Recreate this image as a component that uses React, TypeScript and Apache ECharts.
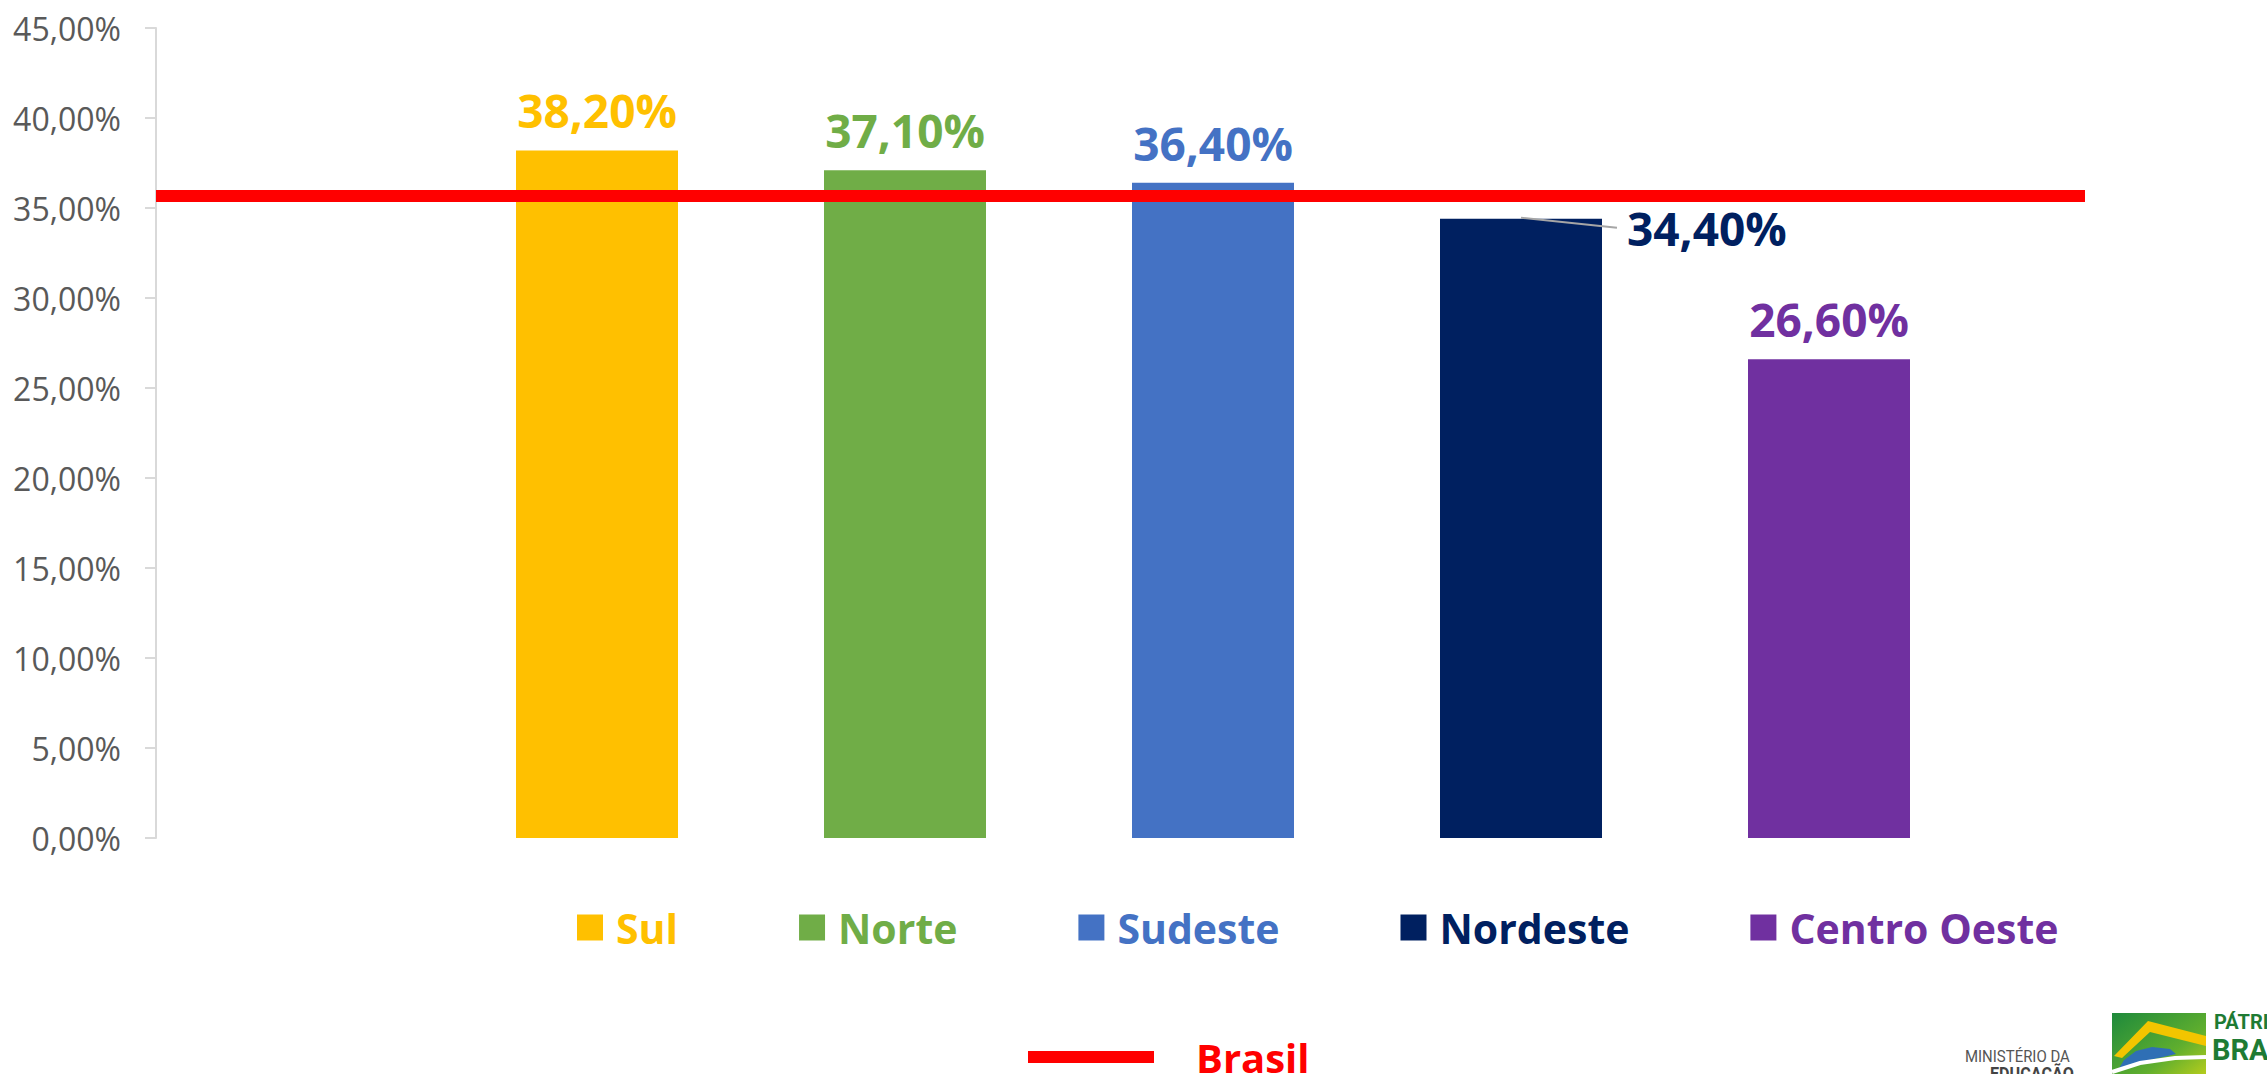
import React, { useEffect, useRef } from "react";
import * as echarts from "echarts";

const categories = ["Sul", "Norte", "Sudeste", "Nordeste", "Centro Oeste"];
const values = [38.2, 37.1, 36.4, 34.4, 26.6];
const colors = ["#FFC000", "#70AD47", "#4472C4", "#002060", "#7030A0"];
const brasilName = "Brasil";
const brasilValue = 35.7;
const yTicks = { min: 0, max: 45, interval: 5 };

const FONT = "'Open Sans', 'Noto Sans', sans-serif";
const fmt = (v: number) => v.toFixed(2).replace(".", ",") + "%";

export default function App() {
  const ref = useRef<HTMLDivElement>(null);
  useEffect(() => {
    document.body.style.margin = "0";
    const chart = echarts.init(ref.current!, null, { renderer: "svg" });
    const barSeries = categories.map((name, i) => ({
      name,
      type: "bar",
      xAxisIndex: 0,
      yAxisIndex: 0,
      stack: "all",
      barWidth: 162,
      itemStyle: { color: colors[i] },
      label: {
        show: true,
        position: name === "Nordeste" ? [187, 9] : "top",
        align: name === "Nordeste" ? "left" : "center",
        verticalAlign: name === "Nordeste" ? "middle" : "bottom",
        distance: 17,
        color: colors[i],
        fontSize: 46,
        fontWeight: "bold",
        fontFamily: FONT,
        formatter: (p: any) => fmt(p.value),
      },
      data: categories.map((_, j) => (j === i ? values[i] : "-")),
    }));
    chart.setOption({
      animation: false,
      grid: [
        { left: 443, right: 284, top: 28, height: 810 },
        { left: 156, right: 182, top: 28, height: 810 },
      ],
      xAxis: [
        {
          type: "category",
          gridIndex: 0,
          data: categories,
          show: false,
        },
        { type: "value", gridIndex: 1, min: 0, max: 1, show: false },
      ],
      yAxis: [
        { type: "value", gridIndex: 0, ...yTicks, show: false },
        {
          type: "value",
          gridIndex: 1,
          ...yTicks,
          axisLine: { show: true, lineStyle: { color: "#d9d9d9", width: 2 } },
          axisTick: { show: true, length: 11, lineStyle: { color: "#d9d9d9", width: 2 } },
          splitLine: { show: false },
          axisLabel: {
            margin: 35,
            color: "#595959",
            fontSize: 32,
            fontFamily: FONT,
            formatter: (v: number) => fmt(v),
          },
        },
      ],
      legend: [
        {
          left: 572,
          top: 902,
          itemWidth: 26,
          itemHeight: 26,
          itemGap: 121,
          icon: "rect",
          textStyle: { fontSize: 41, fontWeight: "bold", fontFamily: FONT, padding: [0, 0, 0, 8] },
          data: categories.map((name, i) => ({ name, textStyle: { color: colors[i] } })),
          selectedMode: false,
        },
        {
          left: 1023,
          top: 1032,
          itemWidth: 126,
          itemHeight: 12,
          textStyle: { fontSize: 40, fontWeight: "bold", fontFamily: FONT, color: "#FF0000", padding: [0, 0, 10, 37] },
          data: [{ name: brasilName, icon: "rect", itemStyle: { color: "#FF0000" } }],
          selectedMode: false,
        },
      ],
      series: [
        ...barSeries,
        {
          name: brasilName,
          type: "line",
          xAxisIndex: 1,
          yAxisIndex: 1,
          color: "#FF0000",
          data: [],
          markLine: {
            silent: true,
            symbol: "none",
            label: { show: false },
            lineStyle: { color: "#FF0000", width: 12, type: "solid" },
            data: [{ yAxis: brasilValue }],
          },
        },
      ],
    });

    const ni = categories.indexOf("Nordeste");
    const p = chart.convertToPixel({ gridIndex: 0 }, [ni, values[ni]]) as number[];
    chart.setOption({
      graphic: [
        {
          id: "leader",
          type: "line",
          shape: { x1: p[0], y1: p[1] - 1, x2: p[0] + 96, y2: p[1] + 9 },
          style: { stroke: "#a6a6a6", lineWidth: 2 },
          z: 10,
        },
        {
          id: "min1",
          type: "text",
          x: 1965,
          y: 1048,
          scaleX: 0.88,
          style: { text: "MINISTÉRIO DA", fontSize: 17, fontFamily: "Roboto, sans-serif", fill: "#555555" },
        },
        {
          id: "min2",
          type: "text",
          x: 1990,
          y: 1064,
          scaleX: 0.85,
          style: { text: "EDUCAÇÃO", fontSize: 19, fontWeight: "bold", fontFamily: "Roboto, sans-serif", fill: "#444444" },
        },
        {
          id: "flag",
          type: "rect",
          shape: { x: 2112, y: 1013, width: 94, height: 70 },
          style: {
            fill: new echarts.graphic.LinearGradient(0, 0, 1, 1, [
              { offset: 0, color: "#1e8a3c" },
              { offset: 0.6, color: "#5fae2e" },
              { offset: 1, color: "#c4d21a" },
            ]),
          },
        },
        {
          id: "roof",
          type: "polygon",
          shape: {
            points: [
              [2114, 1056], [2148, 1021], [2206, 1036], [2206, 1046], [2150, 1032], [2122, 1058],
            ],
          },
          style: { fill: "#f2c500" },
        },
        {
          id: "dome",
          type: "polygon",
          shape: {
            points: [
              [2118, 1070], [2124, 1060], [2136, 1051], [2152, 1047], [2170, 1049], [2176, 1054], [2150, 1060],
            ],
          },
          style: { fill: "#2f6fb5" },
        },
        {
          id: "swoosh",
          type: "polyline",
          shape: { points: [[2112, 1072], [2140, 1063], [2175, 1058], [2206, 1057]] },
          style: { stroke: "#ffffff", lineWidth: 4, fill: "none" },
        },
        {
          id: "patria",
          type: "text",
          x: 2214,
          y: 1012,
          style: { text: "PÁTRIA AMADA", fontSize: 20, fontWeight: "bold", fontFamily: "Roboto, sans-serif", fill: "#1e7b34" },
        },
        {
          id: "brasilLogo",
          type: "text",
          x: 2212,
          y: 1035,
          style: { text: "BRASIL", fontSize: 29, fontWeight: "bold", fontFamily: "Roboto, sans-serif", fill: "#1e7b34" },
        },
      ],
    });

    return () => chart.dispose();
  }, []);
  return <div ref={ref} style={{ width: 2267, height: 1074 }} />;
}
